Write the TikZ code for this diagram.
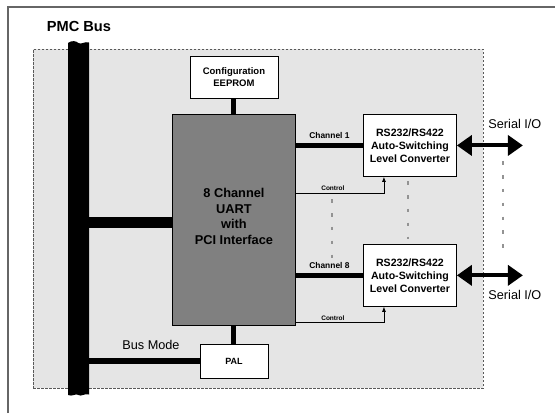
\documentclass[tikz,border=0pt]{standalone}
\usepackage{fontspec}
\setmainfont{Liberation Sans}
\usetikzlibrary{arrows.meta,positioning}

\begin{document}
\begin{tikzpicture}[
	x=1pt, y=-1pt,
	basic/.style  = {draw, inner sep=0pt, align=center, line width=0.9pt},
	chip/.style   = {basic, fill=white},
	uartbox/.style = {basic, fill=gray, minimum width=123pt, minimum height=211pt},
	conv/.style   = {chip, minimum width=93pt, minimum height=62pt, font=\bfseries\fontsize{10.6}{13}\selectfont},
	link/.style   = {draw, line width=#1},
	link/.default = 5pt,
	ctrl/.style   = {draw, line width=0.7pt, -{Latex[length=5pt,width=4pt]}},
	serial/.style = {line width=4pt, {Triangle[width=20pt,length=15pt]}-{Triangle[width=20pt,length=15pt]}},
	dotline/.style = {gray!85, line width=2.4pt, dash pattern=on 3.5pt off 10.3pt},
	lbl/.style    = {font=\fontsize{12.7}{15}\selectfont, inner sep=0pt},
	chlbl/.style  = {font=\bfseries\fontsize{8.4}{10}\selectfont, inner sep=1pt},
	ctlbl/.style  = {font=\bfseries\fontsize{6.5}{8}\selectfont, inner sep=1pt},
	>=latex]

	\useasboundingbox (0,0) rectangle (555,413);

	% outer frame, only its top and left edges show
	\draw[black!60, line width=1.4pt] (8,413) -- (8,7) -- (555,7);
	\node[font=\bfseries\fontsize{14.6}{17}\selectfont, inner sep=0pt] (title) at (79,26) {PMC Bus};

	% the board itself
	\node[draw=black!65, fill=gray!20, dash pattern=on 2.5pt off 1.5pt, line width=0.7pt,
		minimum width=450pt, minimum height=339pt, anchor=north west, inner sep=0pt] (board) at (33,49) {};

	% PMC bus bar with torn ends
	\fill[black] (68,43) .. controls (72,40) and (76,41) .. (78.5,43)
		.. controls (81,45) and (85,41) .. (89,42.5) -- (89,394.5)
		.. controls (85,393) and (81,397) .. (78.5,395)
		.. controls (76,393) and (72,397) .. (68,395) -- cycle;
	\node[inner sep=0pt, minimum width=21pt, minimum height=352pt] (bus) at (78.5,219) {};

	% the main chip and its neighbours
	\node[uartbox, anchor=north west] (uart) at (172,114) {};
	\node[align=center, font=\bfseries\fontsize{12.8}{15.7}\selectfont] (uarttxt)
		at ([yshift=3.5pt]uart.center) {8 Channel\\UART\\with\\PCI Interface};
	\node[chip, minimum width=88pt, minimum height=42pt, font=\bfseries\fontsize{9.5}{12}\selectfont,
		above=15pt of uart] (eeprom) {Configuration\\EEPROM};
	\node[chip, minimum width=68pt, minimum height=34pt, font=\bfseries\fontsize{9}{11}\selectfont,
		below=18pt of uart] (pal) {PAL};

	% level converters, channel 1 and channel 8
	\node[conv, anchor=north west] (conv1) at (363,114) {RS232/RS422\\Auto-Switching\\Level Converter};
	\node[conv, below=67pt of conv1] (conv8) {RS232/RS422\\Auto-Switching\\Level Converter};

	% bus links
	\draw[link] (eeprom.south) -- (uart.north);
	\draw[link] (uart.south) -- (pal.north);
	\draw[link=11pt] ([yshift=-2.5pt]uart.west -| bus.east) -- ([yshift=-2.5pt]uart.west);
	\draw[link=6pt] (bus.east |- pal.west) -- node[lbl, above=8.5pt, pos=0.56] (busmode) {Bus Mode} (pal.west);

	% channels, control lines and serial ports
	\foreach \i in {1,8} {
		\draw[link] (uart.east |- conv\i.west) -- node[chlbl, above=3.5pt] {Channel \i} (conv\i.west);
		\coordinate (ctl\i) at ([xshift=-26pt, yshift=-16pt]conv\i.south);
		\draw[ctrl] (uart.east |- ctl\i) -- node[ctlbl, above=0.5pt, pos=0.42] {Control} (ctl\i)
			-- ([xshift=-26pt]conv\i.south);
		\coordinate (io\i) at ([xshift=66pt]conv\i.east);
		\draw[serial] (conv\i.east) -- (io\i);
	}
	\node[lbl] (ser1) at ([xshift=-8pt, yshift=21pt]io1) {Serial I/O};
	\node[lbl] (ser8) at ([xshift=-8pt, yshift=-20pt]io8) {Serial I/O};

	% channels 2 to 7 left out
	\draw[dotline] (332,199.3) -- (332,259);
	\draw[dotline] (408,181.3) -- (408,239);
	\draw[dotline] (503,161.3) -- (503,249);

\end{tikzpicture}
\end{document}
